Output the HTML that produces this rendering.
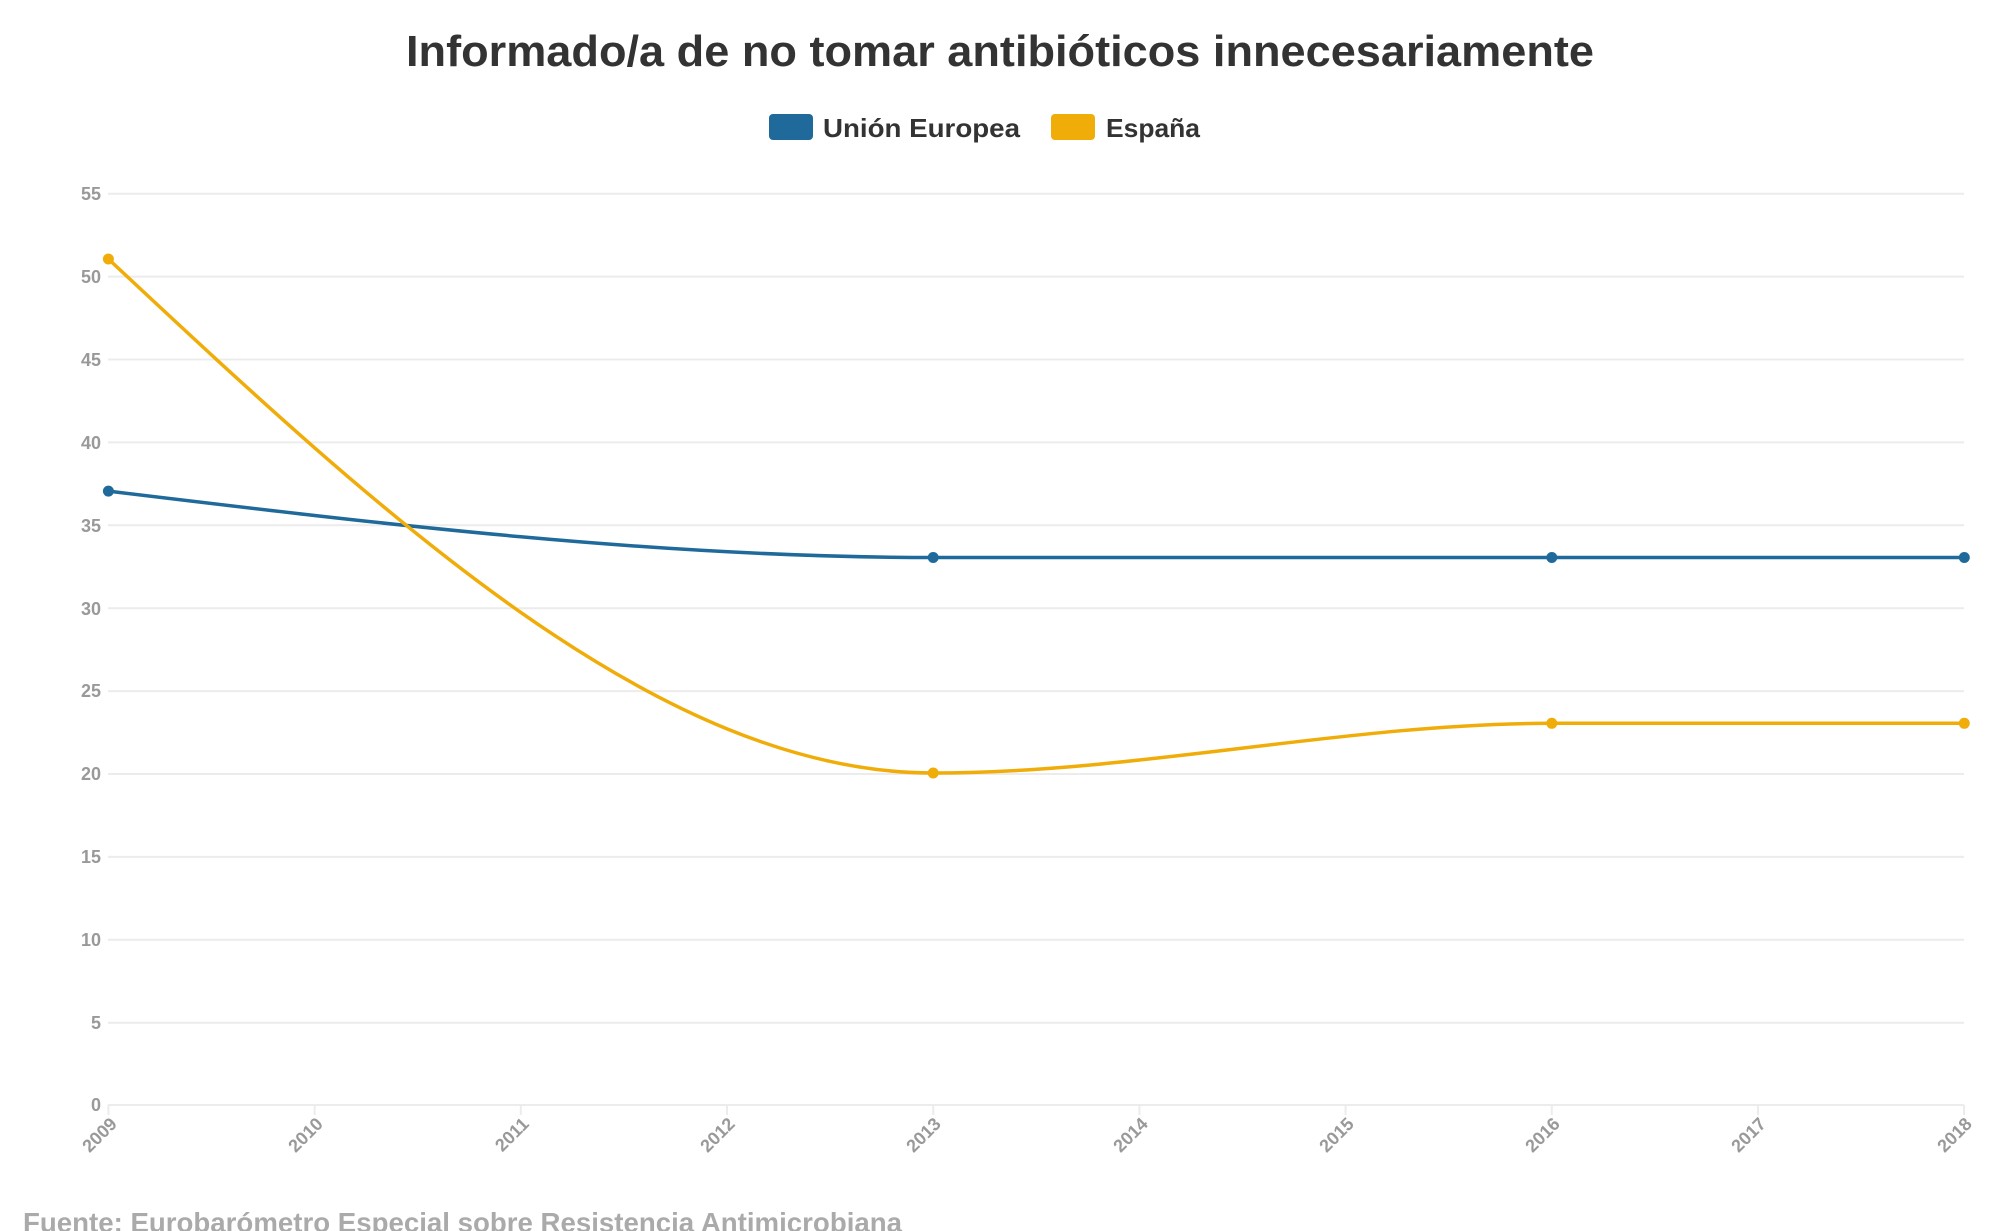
<!DOCTYPE html>
<html><head><meta charset="utf-8">
<style>
html,body{margin:0;padding:0;background:#fff;}
svg{display:block;}
text{font-family:"Liberation Sans",sans-serif;font-weight:bold;}
</style></head>
<body>
<svg width="2000" height="1231" viewBox="0 0 2000 1231" xmlns="http://www.w3.org/2000/svg">
<text x="1000" y="66" text-anchor="middle" font-size="44" fill="#333" textLength="1188" lengthAdjust="spacingAndGlyphs">Informado/a de no tomar antibióticos innecesariamente</text>
<rect x="769" y="114" width="44" height="26" rx="4" fill="#1f6a9a"/>
<text x="823" y="137" font-size="26" fill="#333" textLength="197" lengthAdjust="spacingAndGlyphs">Unión Europea</text>
<rect x="1051" y="114" width="44" height="26" rx="4" fill="#f0ad0a"/>
<text x="1106" y="137" font-size="26" fill="#333" textLength="94" lengthAdjust="spacingAndGlyphs">España</text>
<g stroke="#ececec" stroke-width="2">
<line x1="108" x2="1964" y1="193.7" y2="193.7"/>
<line x1="108" x2="1964" y1="276.6" y2="276.6"/>
<line x1="108" x2="1964" y1="359.5" y2="359.5"/>
<line x1="108" x2="1964" y1="442.4" y2="442.4"/>
<line x1="108" x2="1964" y1="525.3" y2="525.3"/>
<line x1="108" x2="1964" y1="608.2" y2="608.2"/>
<line x1="108" x2="1964" y1="691.1" y2="691.1"/>
<line x1="108" x2="1964" y1="774.0" y2="774.0"/>
<line x1="108" x2="1964" y1="856.9" y2="856.9"/>
<line x1="108" x2="1964" y1="939.8" y2="939.8"/>
<line x1="108" x2="1964" y1="1022.7" y2="1022.7"/>
<line x1="108" x2="1964" y1="1105" y2="1105"/>
<line x1="108.4" x2="108.4" y1="1105" y2="1115"/>
<line x1="314.6" x2="314.6" y1="1105" y2="1115"/>
<line x1="520.8" x2="520.8" y1="1105" y2="1115"/>
<line x1="727" x2="727" y1="1105" y2="1115"/>
<line x1="933.2" x2="933.2" y1="1105" y2="1115"/>
<line x1="1139.4" x2="1139.4" y1="1105" y2="1115"/>
<line x1="1345.6" x2="1345.6" y1="1105" y2="1115"/>
<line x1="1551.8" x2="1551.8" y1="1105" y2="1115"/>
<line x1="1758" x2="1758" y1="1105" y2="1115"/>
<line x1="1964" x2="1964" y1="1105" y2="1115"/>
</g>
<g font-size="18" fill="#999" text-anchor="end">
<text x="101" y="200">55</text>
<text x="101" y="283">50</text>
<text x="101" y="366">45</text>
<text x="101" y="449">40</text>
<text x="101" y="532">35</text>
<text x="101" y="615">30</text>
<text x="101" y="697">25</text>
<text x="101" y="780">20</text>
<text x="101" y="863">15</text>
<text x="101" y="946">10</text>
<text x="101" y="1029">5</text>
<text x="101" y="1111">0</text>
</g>
<g font-size="18" fill="#999" text-anchor="end">
<text transform="translate(118,1125) rotate(-45)">2009</text>
<text transform="translate(324,1125) rotate(-45)">2010</text>
<text transform="translate(530,1125) rotate(-45)">2011</text>
<text transform="translate(736,1125) rotate(-45)">2012</text>
<text transform="translate(942,1125) rotate(-45)">2013</text>
<text transform="translate(1149,1125) rotate(-45)">2014</text>
<text transform="translate(1355,1125) rotate(-45)">2015</text>
<text transform="translate(1561,1125) rotate(-45)">2016</text>
<text transform="translate(1767,1125) rotate(-45)">2017</text>
<text transform="translate(1973,1125) rotate(-45)">2018</text>
</g>
<path d="M108.4,491.1 C383.3,524.3 658.3,557.5 933.2,557.5 L1964.3,557.5" fill="none" stroke="#1f6a9a" stroke-width="3.5"/>
<path d="M108.4,259 C383.3,516.1 658.3,773 933.2,773 C1139.4,773 1345.6,723.3 1551.8,723.3 L1964.3,723.3" fill="none" stroke="#f0ad0a" stroke-width="3.5"/>
<g fill="#1f6a9a">
<circle cx="108.4" cy="491.1" r="5.5"/><circle cx="933.2" cy="557.5" r="5.5"/><circle cx="1551.8" cy="557.5" r="5.5"/><circle cx="1964.3" cy="557.5" r="5.5"/>
</g>
<g fill="#f0ad0a">
<circle cx="108.4" cy="259" r="5.5"/><circle cx="933.2" cy="773" r="5.5"/><circle cx="1551.8" cy="723.3" r="5.5"/><circle cx="1964.3" cy="723.3" r="5.5"/>
</g>
<text x="23" y="1232" font-size="28" fill="#aaa" textLength="879" lengthAdjust="spacingAndGlyphs">Fuente: Eurobarómetro Especial sobre Resistencia Antimicrobiana</text>
</svg>
</body></html>
